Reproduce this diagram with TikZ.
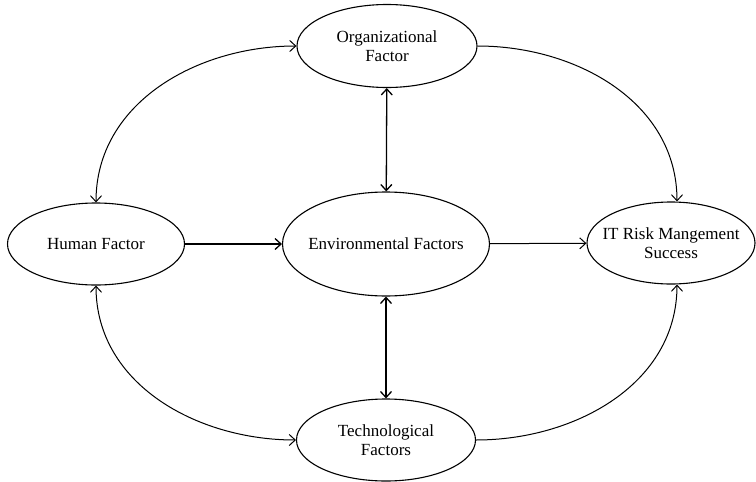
\documentclass[tikz,border=0pt]{standalone}
\usepackage{fontspec}
\setmainfont{Liberation Serif}
\usetikzlibrary{arrows.meta,shapes.geometric}

\begin{document}
\begin{tikzpicture}[x=1pt,y=-1pt,
  factor/.style={ellipse,draw,line width=1.1pt,inner sep=0pt,align=center,
    font=\fontsize{17}{19.5}\selectfont},
  link/.style={line width=1pt,>={Straight Barb[length=6pt,width=11pt]}}]
\useasboundingbox (0,0) rectangle (756,482);
% factors
\node[factor,minimum width=180pt,minimum height=83pt] (org) at (387,46) {Organizational\\Factor};
\node[factor,minimum width=177pt,minimum height=82pt] (human) at (96,244) {Human Factor};
\node[factor,inner xsep=-6pt,minimum width=207pt,minimum height=104pt] (env) at (386,244) {Environmental Factors};
\node[factor,inner xsep=-10pt,minimum width=168pt,minimum height=82pt] (itrm) at (671,243) {IT Risk Mangement\\Success};
\node[factor,minimum width=179pt,minimum height=82pt] (tech) at (386,440) {Technological\\Factors};
% links
\draw[link,->,line width=1.3pt] (human) -- (env);
\draw[link,->] (env) -- (itrm);
\draw[link,<->,line width=1.3pt] (org) -- (env);
\draw[link,<->,line width=1.3pt] (env) -- (tech);
\draw[link,<->] (org.west) to[out=180,in=90] (human.north);
\draw[link,->] (org.east) to[out=0,in=90] ([xshift=6pt]itrm.north);
\draw[link,<->] (human.south) to[out=-90,in=180] (tech.west);
\draw[link,->] (tech.east) to[out=0,in=-90] ([xshift=6pt]itrm.south);
\end{tikzpicture}
\end{document}
